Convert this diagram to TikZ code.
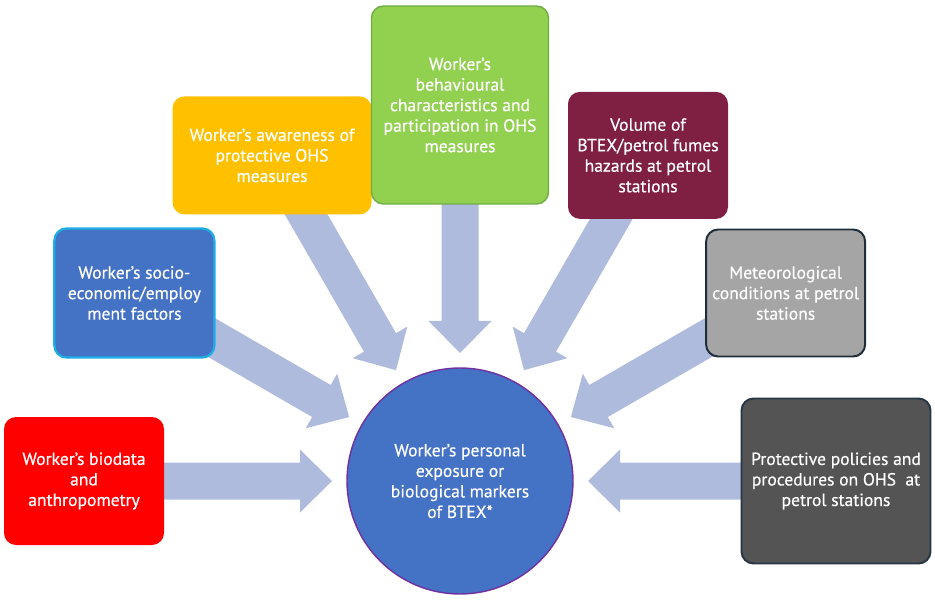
\documentclass[tikz,border=0pt]{standalone}
\usepackage{fontspec}
\setmainfont{PT Sans}[FakeBold=0.5]
\usepackage{tikz}
\definecolor{flow}{RGB}{174,187,221}
\definecolor{bio}{RGB}{255,0,0}
\definecolor{socio}{RGB}{68,114,196}
\definecolor{sociorim}{RGB}{30,174,230}
\definecolor{aware}{RGB}{255,192,0}
\definecolor{behave}{RGB}{146,208,80}
\definecolor{behaverim}{RGB}{112,173,71}
\definecolor{fumes}{RGB}{127,31,66}
\definecolor{meteo}{RGB}{165,165,165}
\definecolor{meteorim}{RGB}{31,45,56}
\definecolor{policy}{RGB}{84,84,84}
\definecolor{policyrim}{RGB}{40,55,70}
\definecolor{hubrim}{RGB}{112,48,160}
\usetikzlibrary{calc,backgrounds}
\tikzset{%
  factor/.style={rectangle, rounded corners=0.3cm, align=center, text=white,
    line width=1pt, font=\fontsize{12.5}{14.6}\selectfont},% factor boxes
  hub/.style={circle, fill=socio, draw=hubrim, line width=1pt, align=center,
    text=white, minimum size=5.65cm, font=\fontsize{12.5}{14.6}\selectfont}% exposure circle
}
% block arrow from box #1 into hub #2
\newcommand*{\inflow}[2]{
  \fill[flow] let \p1=($(#1.center)-(#2.center)$), \n1={atan2(\y1,\x1)} in
    ($(#2.center)+(\n1:3.2)$)
    -- ($(#2.center)+(\n1:4.0)+(\n1+90:0.7875)$)
    -- ($(#2.center)+(\n1:4.0)+(\n1+90:0.4625)$)
    -- ($(#2.center)+(\n1:8.25)+(\n1+90:0.4625)$)
    -- ($(#2.center)+(\n1:8.25)+(\n1-90:0.4625)$)
    -- ($(#2.center)+(\n1:4.0)+(\n1-90:0.4625)$)
    -- ($(#2.center)+(\n1:4.0)+(\n1-90:0.7875)$) -- cycle;}

\begin{document}
\begin{tikzpicture}
\useasboundingbox (0,0) rectangle (23.375,15);

\node[hub] (hub) at (11.5,2.975) {Worker’s personal\\exposure or\\biological markers\\of BTEX*};

\node[factor, fill=bio, minimum width=4cm, minimum height=3.2cm] (bio) at ($(hub.center)+(180:9.4)$) {Worker’s biodata\\and\\anthropometry};
\node[factor, fill=socio, draw=sociorim, line width=1.6pt, minimum width=4cm, minimum height=3.225cm] (socio) at ($(hub.center)+(150:9.4)$) {Worker’s socio-\\economic/employ\\ment factors};
\node[factor, fill=aware, minimum width=4.975cm, minimum height=2.95cm] (aware) at ($(hub.center)+(120:9.4)$) {Worker’s awareness of\\protective OHS\\measures};
\node[factor, fill=behave, draw=behaverim, minimum width=4.425cm, minimum height=4.95cm] (behave) at ($(hub.center)+(90:9.4)$) {Worker’s\\behavioural\\characteristics and\\participation in OHS\\measures};
\node[factor, fill=fumes, minimum width=4cm, minimum height=3.175cm] (fumes) at ($(hub.center)+(60:9.4)$) {Volume of\\BTEX/petrol fumes\\hazards at petrol\\stations};
\node[factor, fill=meteo, draw=meteorim, line width=1.4pt, minimum width=3.975cm, minimum height=3.175cm] (meteo) at ($(hub.center)+(30:9.4)$) {Meteorological\\conditions at petrol\\stations};
\node[factor, fill=policy, draw=policyrim, line width=1.4pt, minimum width=4.725cm, minimum height=4.125cm] (policy) at ($(hub.center)+(0:9.4)$) {Protective policies and\\procedures on OHS~ at\\petrol stations};

\begin{scope}[on background layer]
\inflow{bio}{hub}
\inflow{socio}{hub}
\inflow{aware}{hub}
\inflow{behave}{hub}
\inflow{fumes}{hub}
\inflow{meteo}{hub}
\inflow{policy}{hub}
\end{scope}

\end{tikzpicture}
\end{document}
